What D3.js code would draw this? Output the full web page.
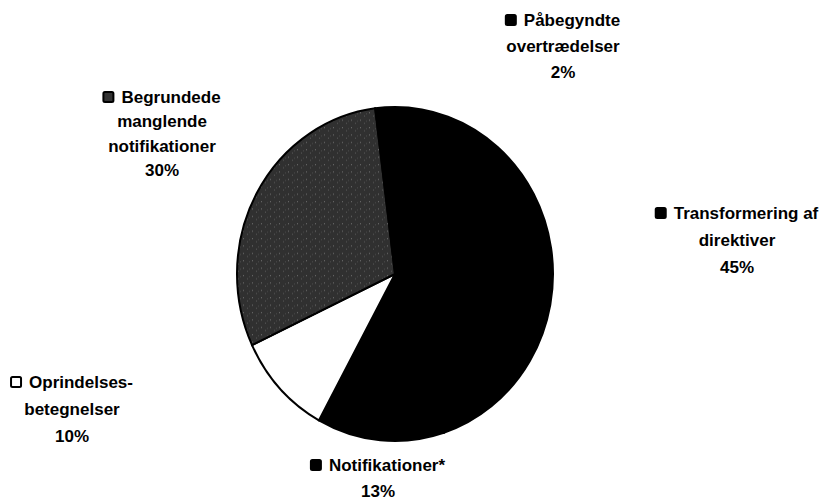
<!DOCTYPE html>
<html>
<head>
<meta charset="utf-8">
<script src="https://cdn.jsdelivr.net/npm/d3@7"></script>
<style>
  body { margin: 0; background: #fff; }
  svg { display: block; }
  text { font-family: "Liberation Sans", Arial, sans-serif; font-weight: bold; font-size: 17px; fill: #000; }
</style>
</head>
<body>
<svg id="board"></svg>
<script>
let categories = ['Transformering af direktiver', 'Notifikationer*', 'Oprindelsesbetegnelser', 'Begrundede manglende notifikationer', 'Påbegyndte overtrædelser']
let values = [45, 13, 10, 30, 2]
let labelLines = [
    ['Transformering af', 'direktiver', '45%'],
    ['Notifikationer*', '13%'],
    ['Oprindelses-', 'betegnelser', '10%'],
    ['Begrundede', 'manglende', 'notifikationer', '30%'],
    ['Påbegyndte', 'overtrædelser', '2%']
]

let width = 822
let height = 502
let cx = 395
let cy = 274
let rx = 158
let ry = 167

let fills = ['#000', '#000', '#fff', 'url(#grain)', '#000']
let swatch = ['#000', '#000', '#fff', '#333', '#000']
// label block centre x, first line y, line gap
let labelPos = [[737, 213, 27], [378, 465, 26], [72, 382, 27], [162, 97, 24.5], [563, 20, 26]]

let board = d3.select('#board')
    .attr('width', width)
    .attr('height', height)

// speckled grey for the 30% slice
let pat = board.append('defs').append('pattern')
    .attr('id', 'grain')
    .attr('patternUnits', 'userSpaceOnUse')
    .attr('width', 9).attr('height', 7)
pat.append('rect').attr('width', 9).attr('height', 7).attr('fill', '#303030')
pat.append('rect').attr('x', 1).attr('y', 1).attr('width', 1).attr('height', 1).attr('fill', '#707070')
pat.append('rect').attr('x', 5).attr('y', 4).attr('width', 1).attr('height', 1).attr('fill', '#5a5a5a')
pat.append('rect').attr('x', 7).attr('y', 2).attr('width', 1).attr('height', 1).attr('fill', '#4a4a4a')

let pie = d3.pie().sort(null).value(d => d)
let arc = d3.arc().innerRadius(0).outerRadius(rx)

let g = board.append('g')
    .attr('transform', 'translate(' + cx + ',' + cy + ') scale(1,' + (ry / rx) + ')')

g.selectAll('path')
    .data(pie(values))
    .enter()
    .append('path')
    .attr('d', arc)
    .attr('fill', (d, i) => fills[i])
    .attr('stroke', '#000')
    .attr('stroke-width', 2)
    .attr('vector-effect', 'non-scaling-stroke')

let makeLabel = (lines, i) => {
    let [x, y, gap] = labelPos[i]
    let lg = board.append('g')
    let first = lg.append('text')
        .attr('y', y)
        .attr('dy', '0.35em')
        .text(lines[0])
    let w = first.node().getComputedTextLength()
    let sq = 10
    let total = sq + 8 + w
    let left = x - total / 2
    lg.append('rect')
        .attr('x', left)
        .attr('y', y - sq / 2)
        .attr('width', sq)
        .attr('height', sq)
        .attr('rx', 1.5)
        .attr('fill', swatch[i])
        .attr('stroke', '#000')
        .attr('stroke-width', 2)
    first.attr('x', left + sq + 8)
    lines.slice(1).forEach((t, k) => {
        lg.append('text')
            .attr('x', x)
            .attr('y', y + gap * (k + 1))
            .attr('dy', '0.35em')
            .attr('text-anchor', 'middle')
            .text(t)
    })
}

labelLines.forEach((lines, i) => makeLabel(lines, i))
</script>
</body>
</html>
